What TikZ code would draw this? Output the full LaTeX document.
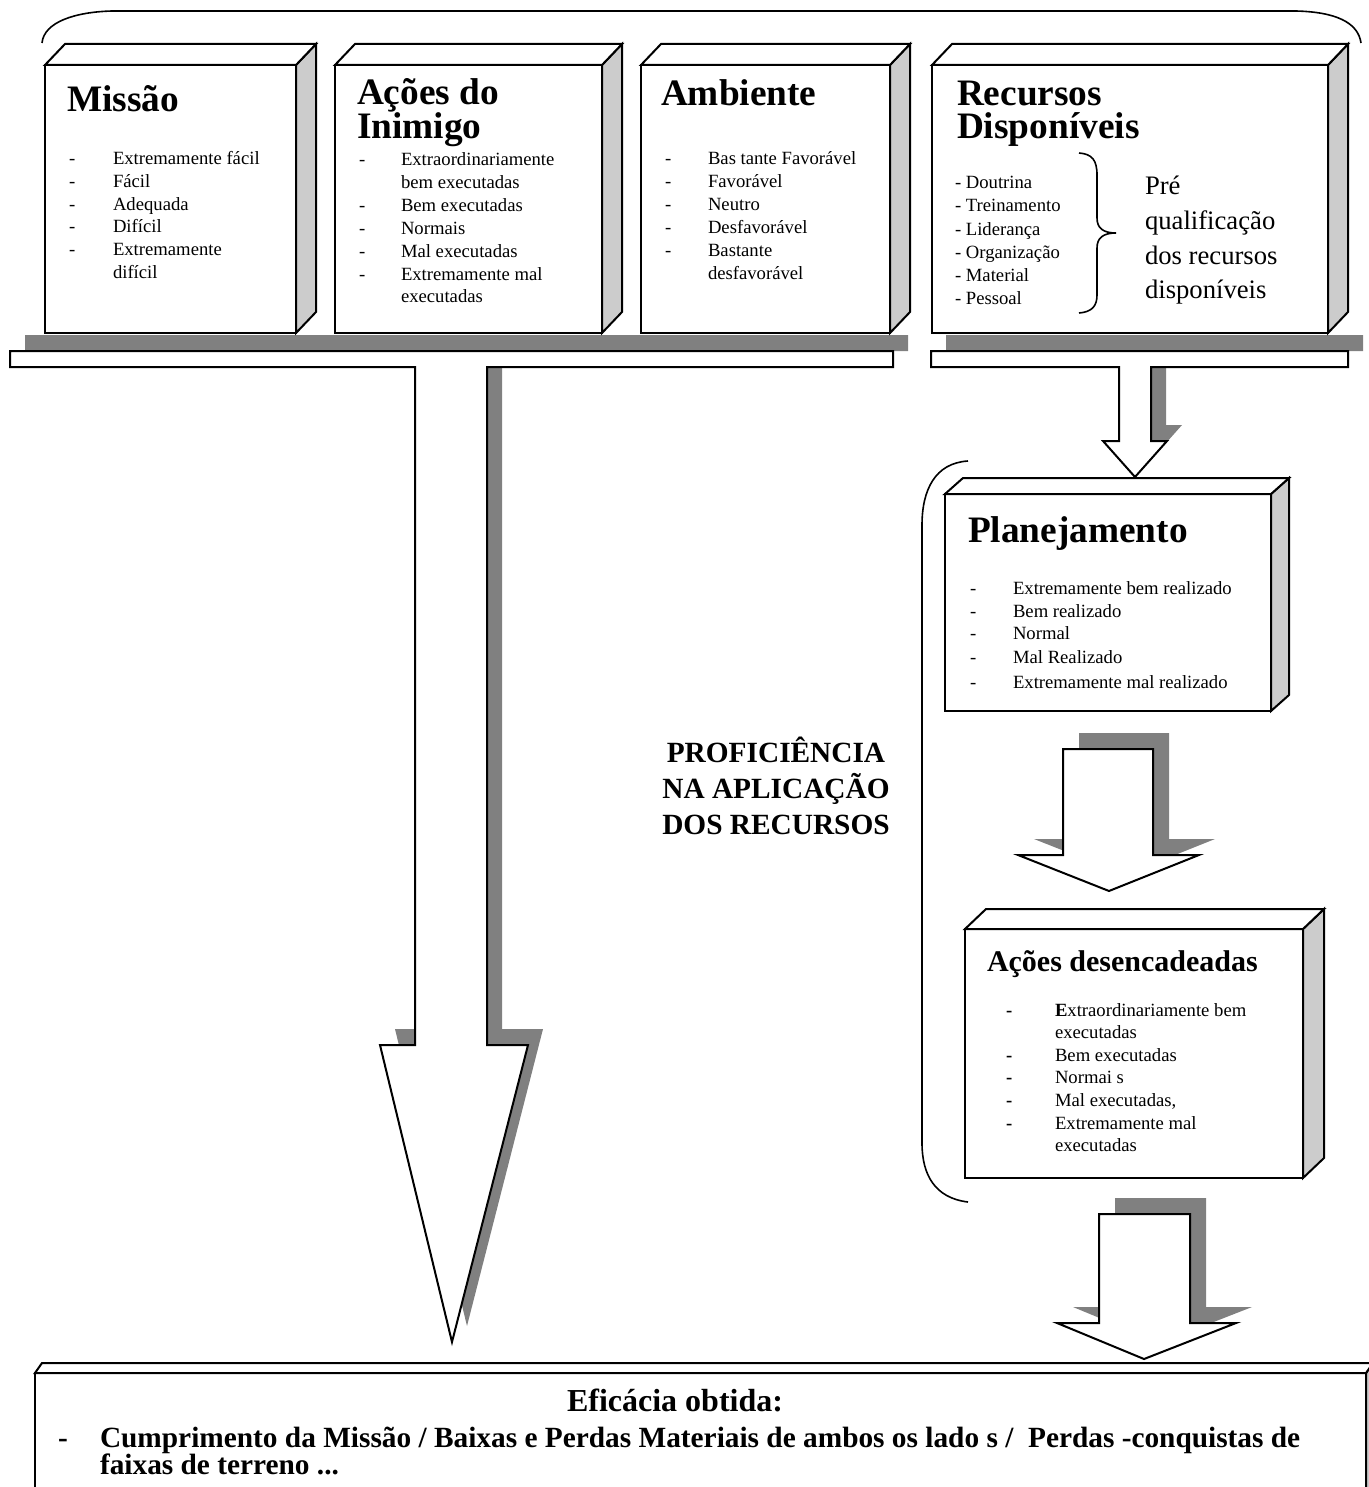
\documentclass[tikz,border=0pt]{standalone}
\usepackage{fontspec}
\setmainfont{Liberation Serif}
\usetikzlibrary{calc}
\definecolor{shadowgray}{RGB}{128,128,128}
\definecolor{sidegray}{RGB}{204,204,204}
\tikzset{
  frontbox/.style={rectangle, draw=black, fill=white, line width=1.5pt, inner sep=0pt, outer sep=0pt},
  sideface/.style={draw=black, fill=sidegray, line width=1.5pt, line join=miter},
  topface/.style={draw=black, fill=white, line width=1.5pt, line join=miter},
  blockarrow/.style={draw=black, fill=white, line width=1.5pt, line join=miter},
  blockshadow/.style={fill=shadowgray},
  bracket/.style={draw=black, line width=1.2pt},
  txt/.style={anchor=base west, inner sep=0pt, outer sep=0pt},
  ttl/.style={txt, align=left, font=\fontsize{28}{25}\selectfont\bfseries},
  item/.style={txt, font=\fontsize{14}{16}\selectfont},
  bigitem/.style={txt, font=\fontsize{20}{24}\selectfont},
  heading/.style={anchor=base, inner sep=0pt, outer sep=0pt, font=\fontsize{22}{27}\selectfont\bfseries},
}
% three-dimensional box: name, x1, y1, x2, y2 (front face), depth dx, dy
\newcommand\solidbox[7]{%
  \node[frontbox, minimum width={(#4-#2)*0.75pt}, minimum height={(#5-#3)*0.75pt}] (#1) at ({(#2+#4)/2},{(#3+#5)/2}) {};
  \filldraw[sideface] (#1.north east) -- ++(#6,#7) -- ($(#1.south east)+(#6,#7)$) -- (#1.south east) -- cycle;
  \filldraw[topface] (#1.north west) -- ++(#6,#7) -- ($(#1.north east)+(#6,#7)$) -- (#1.north east) -- cycle;
}
\begin{document}
\begin{tikzpicture}[x=0.75pt,y=-0.75pt]
\useasboundingbox (0,0) rectangle (1369,1487);
\clip (0,0) rectangle (1369,1487);

% brace over the four factors
\draw[bracket] (42,43) .. controls (44,22) and (75,12) .. (112,11) -- (1296,11)
  .. controls (1335,12) and (1358,22) .. (1361,43);

% block arrows: shadows first, then the white shapes
\fill[blockshadow, shift={(15,-16)}] (10,351) -- (893,351) -- (893,367) -- (487,367) -- (487,1045)
  -- (528,1045) -- (452,1342) -- (380,1045) -- (415,1045) -- (415,367) -- (10,367) -- cycle;
\filldraw[blockarrow] (10,351) -- (893,351) -- (893,367) -- (487,367) -- (487,1045)
  -- (528,1045) -- (452,1342) -- (380,1045) -- (415,1045) -- (415,367) -- (10,367) -- cycle;

\fill[blockshadow, shift={(15,-16)}] (931,351) -- (1348,351) -- (1348,367) -- (1151,367) -- (1151,441)
  -- (1167,441) -- (1135,477) -- (1103,441) -- (1119,441) -- (1119,367) -- (931,367) -- cycle;
\filldraw[blockarrow] (931,351) -- (1348,351) -- (1348,367) -- (1151,367) -- (1151,441)
  -- (1167,441) -- (1135,477) -- (1103,441) -- (1119,441) -- (1119,367) -- (931,367) -- cycle;

\fill[blockshadow, shift={(16,-16)}] (1063,749) -- (1153,749) -- (1153,855) -- (1199,855)
  -- (1109,891) -- (1018,855) -- (1063,855) -- cycle;
\filldraw[blockarrow] (1063,749) -- (1153,749) -- (1153,855) -- (1199,855)
  -- (1109,891) -- (1018,855) -- (1063,855) -- cycle;

\fill[blockshadow, shift={(16,-16)}] (1099,1214) -- (1190,1214) -- (1190,1323) -- (1236,1323)
  -- (1144,1359) -- (1057,1323) -- (1099,1323) -- cycle;
\filldraw[blockarrow] (1099,1214) -- (1190,1214) -- (1190,1323) -- (1236,1323)
  -- (1144,1359) -- (1057,1323) -- (1099,1323) -- cycle;

% the four factor boxes
\solidbox{missao}{45}{65}{296}{333}{20}{-21}
\solidbox{inimigo}{335}{65}{602}{333}{20}{-21}
\solidbox{ambiente}{641}{65}{890}{333}{20}{-21}
\solidbox{recursos}{932}{65}{1328}{333}{20}{-21}

\node[ttl] (t-missao) at (67,112) {Missão};
\foreach \d/\t [count=\i from 0] in {-/Extremamente fácil, -/Fácil, -/Adequada, -/Difícil, -/Extremamente, /difícil}{
  \node[item] (mi-d\i) at (69,165+22.6*\i) {\d};
  \node[item] (mi-t\i) at (113,165+22.6*\i) {\t};
}

% two-line titles: the base anchor sits on the last line
\node[ttl] (t-inimigo) at (357,139) {Ações do\\Inimigo};
\foreach \d/\t [count=\i from 0] in {-/Extraordinariamente, /bem executadas, -/Bem executadas, -/Normais, -/Mal executadas, -/Extremamente mal, /executadas}{
  \node[item] (in-d\i) at (359,166+22.8*\i) {\d};
  \node[item] (in-t\i) at (401,166+22.8*\i) {\t};
}

\node[ttl] (t-ambiente) at (661,106) {Ambiente};
\foreach \d/\t [count=\i from 0] in {-/Bas tante Favorável, -/Favorável, -/Neutro, -/Desfavorável, -/Bastante, /desfavorável}{
  \node[item] (am-d\i) at (665,165+22.8*\i) {\d};
  \node[item] (am-t\i) at (708,165+22.8*\i) {\t};
}

\node[ttl] (t-recursos) at (957,139) {Recursos\\Disponíveis};
\foreach \t [count=\i from 0] in {Doutrina, Treinamento, Liderança, Organização, Material, Pessoal}{
  \node[item] (re-t\i) at (955,189+23*\i) {- \t};
}
\draw[bracket] (1079,153) .. controls (1092,154) and (1097,160) .. (1097,175) -- (1097,218)
  .. controls (1097,228) and (1103,233) .. (1116,233)
  .. controls (1103,233) and (1097,238) .. (1097,248) -- (1097,295)
  .. controls (1097,306) and (1092,312) .. (1079,313);
\foreach \t [count=\i from 0] in {Pré, qualificação, dos recursos, disponíveis}{
  \node[bigitem] (pq-\i) at (1145,195+34.5*\i) {\t};
}

% planning and executed actions, grouped by a bracket
\draw[bracket] (968,461) .. controls (935,463) and (922,490) .. (922,525) -- (922,1143)
  .. controls (922,1175) and (935,1198) .. (968,1202);

\solidbox{planejamento}{945}{494}{1271}{711}{18}{-16}
\node[ttl] (t-plan) at (968,542) {Planejamento};
\foreach \y/\t [count=\i from 0] in {594/Extremamente bem realizado, 617/Bem realizado, 639/Normal, 663/Mal Realizado, 688/Extremamente mal realizado}{
  \node[item] (pl-d\i) at (970,\y) {-};
  \node[item] (pl-t\i) at (1013,\y) {\t};
}

\solidbox{acoes}{965}{929}{1303}{1178}{21}{-20}
\node[txt, font=\fontsize{22.5}{26}\selectfont\bfseries] (t-acoes) at (987,971) {Ações desencadeadas};
\foreach \d/\t [count=\i from 0] in {-/{\textbf{E}xtraordinariamente bem}, /executadas, -/Bem executadas, -/Normai s, -/{Mal executadas,}, -/Extremamente mal, /executadas}{
  \node[item, font=\fontsize{14}{16}\selectfont\bfseries] (ac-d\i) at (1006,1016+22.6*\i) {\d};
  \node[item] (ac-t\i) at (1055,1016+22.6*\i) {\t};
}

\node[heading] (prof1) at (776,762) {PROFICIÊNCIA};
\node[heading] (prof2) at (776,798) {NA APLICAÇÃO};
\node[heading] (prof3) at (776,834) {DOS RECURSOS};

% resulting effectiveness
\solidbox{eficacia}{35}{1373}{1366}{1540}{7}{-10}
\node[anchor=base, inner sep=0pt, font=\fontsize{24}{28}\selectfont\bfseries] (t-eficacia) at (675,1411) {Eficácia obtida:};
\node[txt, font=\fontsize{22}{26}\selectfont\bfseries] (ef-d) at (58,1447) {-};
\node[txt, font=\fontsize{22}{26}\selectfont\bfseries] (ef-1) at (100,1447) {Cumprimento da Missão / Baixas e Perdas Materiais de ambos os lado s /\ \ Perdas -conquistas de};
\node[txt, font=\fontsize{22}{26}\selectfont\bfseries] (ef-2) at (100,1474) {faixas de terreno ...};
\end{tikzpicture}
\end{document}
